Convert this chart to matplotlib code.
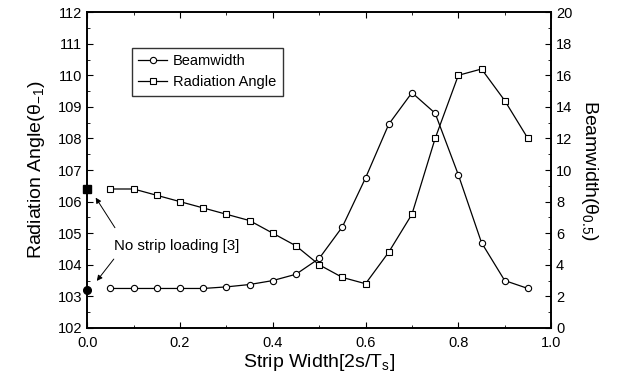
"""Radiation angle and beamwidth versus strip width, with the no-strip reference points."""
import matplotlib.pyplot as plt
from matplotlib.ticker import MultipleLocator

plt.rcParams["font.family"] = ["Liberation Sans", "DejaVu Sans"]
plt.rcParams["mathtext.fontset"] = "custom"
plt.rcParams["mathtext.rm"] = "Liberation Sans"
plt.rcParams["mathtext.it"] = "Liberation Sans"

strip_width = [0.05, 0.10, 0.15, 0.20, 0.25, 0.30, 0.35, 0.40, 0.45, 0.50,
               0.55, 0.60, 0.65, 0.70, 0.75, 0.80, 0.85, 0.90, 0.95]
radiation_angle = [106.4, 106.4, 106.2, 106.0, 105.8, 105.6, 105.4, 105.0, 104.6, 104.0,
                   103.6, 103.4, 104.4, 105.6, 108.0, 110.0, 110.2, 109.2, 108.0]
beamwidth = [2.5, 2.5, 2.5, 2.5, 2.5, 2.6, 2.75, 3.0, 3.4, 4.4,
             6.4, 9.5, 12.9, 14.9, 13.6, 9.7, 5.4, 3.0, 2.5]

# no strip loading [3], both plotted against the left axis
ref_x = [0.0, 0.0]
ref_y = [106.4, 103.2]

fig, ax = plt.subplots(figsize=(6.32, 3.8), dpi=100)
ax2 = ax.twinx()

l1, = ax2.plot(strip_width, beamwidth, color="black", lw=0.9, marker="o",
               ms=4.5, mfc="white", mec="black", mew=0.8, label="Beamwidth")
l2, = ax.plot(strip_width, radiation_angle, color="black", lw=0.9, marker="s",
              ms=5, mfc="white", mec="black", mew=0.8, label="Radiation Angle")
ax.plot(ref_x[:1], ref_y[:1], ls="none", marker="s", ms=5.5, color="black", clip_on=False, zorder=5)
ax.plot(ref_x[1:], ref_y[1:], ls="none", marker="o", ms=5.5, color="black", clip_on=False, zorder=5)

# arrows from the note to both reference points
ax.annotate("", xy=(0.015, 106.2), xytext=(0.063, 105.1),
            arrowprops=dict(arrowstyle="-|>", color="black", lw=0.7, mutation_scale=8))
ax.annotate("", xy=(0.017, 103.42), xytext=(0.061, 104.25),
            arrowprops=dict(arrowstyle="-|>", color="black", lw=0.7, mutation_scale=8))
ax.text(0.058, 104.6, "No strip loading [3]", fontsize=10.8, va="center", ha="left")

ax.set_xlim(0, 1.0)
ax.set_ylim(102, 112)
ax2.set_ylim(0, 20)
ax.xaxis.set_major_locator(MultipleLocator(0.2))
ax.xaxis.set_minor_locator(MultipleLocator(0.1))
ax.yaxis.set_major_locator(MultipleLocator(1))
ax.yaxis.set_minor_locator(MultipleLocator(0.5))
ax2.yaxis.set_major_locator(MultipleLocator(2))
ax2.yaxis.set_minor_locator(MultipleLocator(1))
ax.xaxis.set_major_formatter(plt.FuncFormatter(lambda v, _p: f"{v:.1f}"))

ax.tick_params(axis="both", which="both", direction="in", top=True, labelsize=10.5)
ax.tick_params(axis="x", pad=6)
ax.tick_params(which="major", length=4)
ax.tick_params(which="minor", length=2)
ax2.tick_params(which="both", direction="in", labelsize=10.5)
ax2.tick_params(which="major", length=4)
ax2.tick_params(which="minor", length=2)
for a in (ax, ax2):
    for s in a.spines.values():
        s.set_linewidth(1.2)

ax.set_xlabel("Strip Width[2s/T$_\\mathregular{s}$]", fontsize=14, labelpad=1)
ax.set_ylabel("Radiation Angle(θ$_\\mathregular{-1}$)", fontsize=14, labelpad=8)
ax2.set_ylabel("Beamwidth(θ$_\\mathregular{0.5}$)", fontsize=14, rotation=270, labelpad=20)

ax2.legend([l1, l2], ["Beamwidth", "Radiation Angle"], loc="upper left",
           bbox_to_anchor=(0.08, 0.91), fontsize=10.5, frameon=True, fancybox=False,
           edgecolor="black", handlelength=2.0, handletextpad=0.4,
           borderpad=0.45, labelspacing=0.45)

fig.subplots_adjust(left=0.138, right=0.872, top=0.968, bottom=0.137)
fig.savefig("out.png", dpi=100)
